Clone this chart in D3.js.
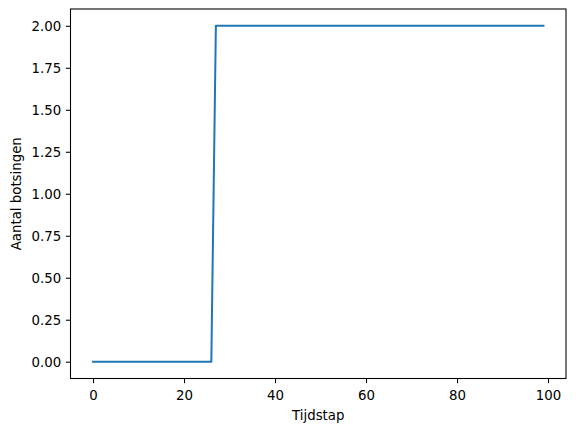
<!DOCTYPE html>
<html><head><meta charset="utf-8">
<script src="https://cdn.jsdelivr.net/npm/d3@7"></script>
<style>body{margin:0;background:#fff}svg{display:block}text{font-family:"DejaVu Sans",sans-serif}</style>
</head><body><svg id="c" width="576" height="432"></svg>
<script>
// Data: number of collisions per timestep (0 until step 26, 2 from step 27 to 99)
const timesteps = d3.range(0, 100);
const collisionsBefore = 0, collisionsAfter = 2, stepAt = 27;
const collisions = timesteps.map(t => t < stepAt ? collisionsBefore : collisionsAfter);
const xTicks = [0, 20, 40, 60, 80, 100];
const yTicks = [0, 0.25, 0.5, 0.75, 1.0, 1.25, 1.5, 1.75, 2.0];
const xLabel = "Tijdstap", yLabel = "Aantal botsingen";

const svg = d3.select("#c");
const L = 70.5, R = 566, T = 9, B = 378.5;
const xMin = 0, xMax = 99, yMin = 0, yMax = 2;
const xp = (xMax - xMin) * 0.05, yp = (yMax - yMin) * 0.05;
const x = d3.scaleLinear().domain([xMin - xp, xMax + xp]).range([L, R]);
const y = d3.scaleLinear().domain([yMin - yp, yMax + yp]).range([B, T]);

const fs = "13.33px";
const tl = 4.67;
const xAxis = svg.append("g").attr("transform", `translate(0,${B})`)
  .call(d3.axisBottom(x).tickValues(xTicks).tickFormat(d3.format("d")).tickSize(tl).tickPadding(4.67));
const yAxis = svg.append("g").attr("transform", `translate(${L},0)`)
  .call(d3.axisLeft(y).tickValues(yTicks).tickFormat(d3.format(".2f")).tickSize(tl).tickPadding(4.67));
[xAxis, yAxis].forEach(a => {
  a.select(".domain").remove();
  a.selectAll("line").attr("stroke", "#000").attr("stroke-width", 1.07);
  a.selectAll("text").attr("fill", "#000").style("font-size", fs).style("font-family", '"DejaVu Sans", sans-serif');
});
xAxis.selectAll("text").attr("y", 21.8).attr("dy", 0);
yAxis.selectAll("text").attr("dy", "0.36em");

svg.append("path").datum(timesteps)
  .attr("fill", "none").attr("stroke", "#1f77b4").attr("stroke-width", 2)
  .attr("stroke-linejoin", "round").attr("stroke-linecap", "square")
  .attr("d", d3.line().x(d => x(d)).y((d, i) => y(collisions[i])));

svg.append("rect").attr("x", L).attr("y", T).attr("width", R - L).attr("height", B - T)
  .attr("fill", "none").attr("stroke", "#000").attr("stroke-width", 1.07);

svg.append("text").attr("x", (L + R) / 2).attr("y", 419.5).attr("text-anchor", "middle")
  .style("font-size", fs).text(xLabel);
svg.append("text").attr("transform", `translate(20.5,${(T + B) / 2}) rotate(-90)`).attr("text-anchor", "middle")
  .style("font-size", fs).text(yLabel);
</script></body></html>
